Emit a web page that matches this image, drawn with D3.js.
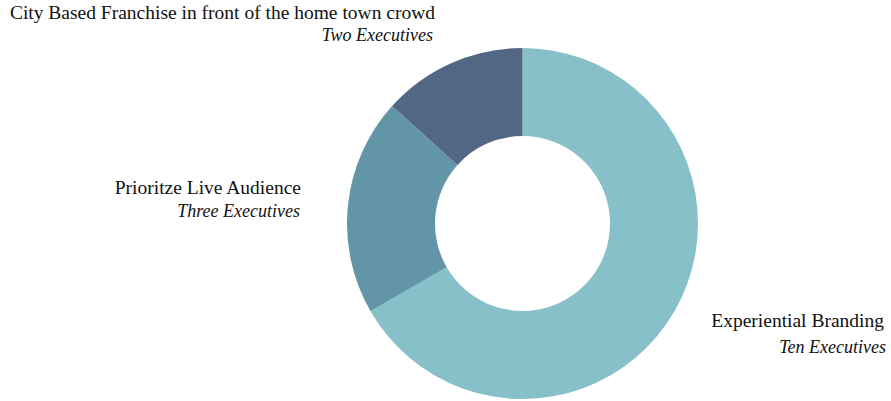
<!DOCTYPE html>
<html>
<head>
<meta charset="utf-8">
<script src="https://cdn.jsdelivr.net/npm/d3@7"></script>
<style>
  body { margin: 0; background: #fff; }
  svg text { font-family: "Liberation Serif", Tinos, "DejaVu Serif", serif; fill: #111; }
  .sub { font-style: italic; }
</style>
</head>
<body>
<svg id="chart" width="891" height="401"></svg>
<script>
const labels = ['Experiential Branding', 'Prioritze Live Audience', 'City Based Franchise in front of the home town crowd']
const subLabels = ['Ten Executives', 'Three Executives', 'Two Executives']
const counts = [10, 3, 2]
const colors = ['#87c0c8', '#6395a8', '#516783']

// label layout: [x end, baseline] for the title line and the italic line
const titlePos = [[884, 326.5], [301, 194], [435, 19]]
const subPos = [[886, 352.5], [300, 217], [433, 40.5]]

const data = labels.map((l, i) => ({ label: l, sub: subLabels[i], v: counts[i], i }))

const svg = d3.select('#chart')
const cx = 522.5
const cy = 223.5
const outer = 175.5
const inner = 87.5

const pie = d3.pie().sort(null).value(d => d.v)
const arc = d3.arc().innerRadius(inner).outerRadius(outer)
const color = d3.scaleOrdinal().domain(labels).range(colors)

svg.append('g')
  .attr('transform', `translate(${cx},${cy})`)
  .selectAll('path')
  .data(pie(data))
  .enter()
  .append('path')
  .attr('d', arc)
  .attr('fill', d => color(d.data.label))

let lab = svg.append('g')
  .selectAll('g')
  .data(data)
  .enter()
  .append('g')

lab.append('text')
  .attr('text-anchor', 'end')
  .attr('x', d => titlePos[d.i][0])
  .attr('y', d => titlePos[d.i][1])
  .style('font-size', '19.5px')
  .text(d => d.label)

lab.append('text')
  .attr('class', 'sub')
  .attr('text-anchor', 'end')
  .attr('x', d => subPos[d.i][0])
  .attr('y', d => subPos[d.i][1])
  .style('font-size', '18px')
  .text(d => d.sub)
</script>
</body>
</html>
